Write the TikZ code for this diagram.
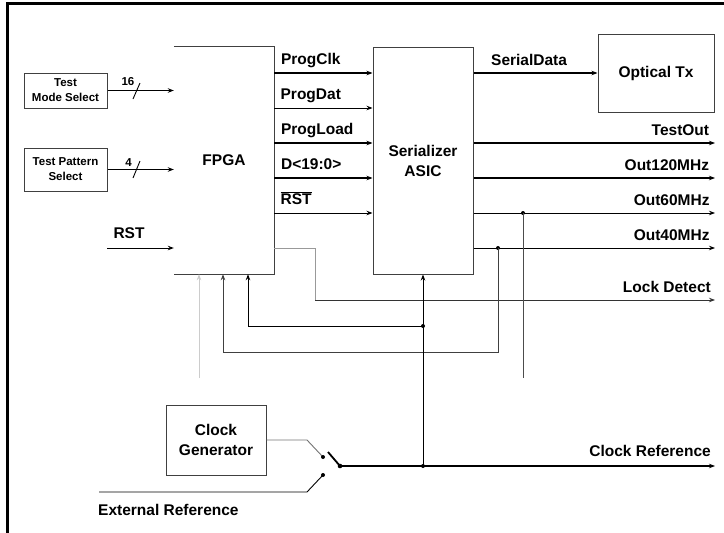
\documentclass[tikz,border=0pt]{standalone}
\usepackage{fontspec}
\setmainfont{Liberation Sans}
\usepackage{xcolor}
\usepackage{tikz}
\usetikzlibrary{arrows.meta, calc, positioning}

\tikzset{
  lbl/.style={font=\fontsize{15.5}{20}\selectfont\bfseries, inner sep=0pt, align=center},
  smalllbl/.style={font=\fontsize{11.5}{15}\selectfont\bfseries, inner sep=0pt, align=center},
  blk/.style={draw=black!75, line width=1pt},
  thk/.style={line width=1.8pt},
  thn/.style={line width=0.9pt},
}

\begin{document}
\begin{tikzpicture}[>={Stealth[length=6pt,width=4.5pt]}, x=1pt, y=-1pt]
  \useasboundingbox (0,0) rectangle (724,533);
  % frame
  \draw[line width=3pt] (7,533) -- (7,3) -- (724,3);

  % blocks
  \node[lbl, minimum width=100pt, minimum height=227pt] (fpga) at (224,160.5) {FPGA};
  \draw[blk] (fpga.north west) -- (fpga.north east) -- (fpga.south east) -- (fpga.south west);
  \node[blk, lbl, minimum width=100pt, minimum height=227pt] (asic) at (423,160.5) {Serializer\\ASIC};
  \node[blk, lbl, minimum width=116pt, minimum height=78pt] (optx) at (656,73) {Optical Tx};
  \node[blk, smalllbl, minimum width=83pt, minimum height=35pt] (modesel) at (65.5,90.5) {Test\\Mode Select};
  \node[blk, smalllbl, minimum width=83pt, minimum height=43pt] (patsel) at (65.5,169.5) {Test Pattern\\Select};
  \node[blk, lbl, minimum width=100pt, minimum height=70pt] (clkgen) at (216,440) {Clock\\Generator};

  % inputs to FPGA
  \draw[thk,->] (modesel.east) -- (modesel.east -| fpga.west);
  \node[smalllbl] (bus16) at (128,82) {16};
  \draw[thn] (133,99) -- (140,83);
  \draw[thn,->] (patsel.east) -- (patsel.east -| fpga.west);
  \node[smalllbl] (bus4) at (128.5,163) {4};
  \draw[thn] (133,178) -- (140,161);
  \coordinate (rstin) at (107,248);
  \draw[thn,->] (rstin) -- (rstin -| fpga.west);
  \node[lbl] (rstlbl) at (129,233) {RST};

  % FPGA -> ASIC
  \foreach \y/\txt/\w in {73/ProgClk/thk, 108/ProgDat/thn, 143/ProgLoad/thk,
                          178/{D<19:0>}/thk, 213/{$\overline{\hbox{RST}}$}/thn}
    \draw[\w,->] (fpga.east |- 0,\y) -- (asic.west |- 0,\y)
      node[lbl, anchor=base west] at ($(fpga.east |- 0,\y)+(6,-9)$) {\txt};

  % ASIC outputs
  \coordinate (rgt) at (715,0);
  \draw[thk,->] (asic.east |- optx.west) -- (optx.west);
  \node[lbl, anchor=base west] (sdlbl) at (491,65) {SerialData};
  \foreach \y/\txt/\w in {143/TestOut/thk, 178/Out120MHz/thk, 213/Out60MHz/thn, 248/Out40MHz/thn}
    \draw[\w,->] (asic.east |- 0,\y) -- (rgt |- 0,\y)
      node[lbl, anchor=base east] at ($(rgt |- 0,\y)+(-5,-8)$) {\txt};

  % lock detect
  \coordinate (ld1) at (315,248);
  \coordinate (ld2) at (315,300);
  \draw[thn, black!40] (fpga.east |- ld1) -- (ld1) -- (ld2);
  \draw[thn, black!80, ->] (ld2) -- (rgt |- ld2);
  \node[lbl, anchor=base east] (ldlbl) at (711,292) {Lock Detect};

  % feedback to FPGA
  \coordinate (t60) at (523,213);
  \coordinate (t60e) at (523,378);
  \fill (t60) circle (2);
  \draw[thn, black!70] (t60) -- (t60e);
  \coordinate (t40) at (498,248);
  \coordinate (t40a) at (498,352);
  \coordinate (t40b) at (223,352);
  \fill (t40) circle (2);
  \draw[thn, black!75, ->] (t40) -- (t40a) -- (t40b) -- (t40b |- fpga.south);
  \coordinate (lg) at (199,378);
  \draw[thn, black!20, ->] (lg) -- (lg |- fpga.south);

  % clock reference
  \coordinate (pivot) at (340,466);
  \coordinate (jc) at (423,466);
  \coordinate (jb) at (423,326);
  \coordinate (jb2) at (248,326);
  \draw[thk, ->] (pivot) -- (rgt |- pivot);
  \node[lbl, anchor=base east] (crlbl) at (711,456) {Clock Reference};
  \draw[thn, ->] (jc) -- (jc |- asic.south);
  \draw[thn, ->] (jb) -- (jb2) -- (jb2 |- fpga.south);
  \fill (jc) circle (2);
  \fill (jb) circle (2);

  % switch
  \coordinate (ka) at (323,457);
  \coordinate (kb) at (323,475);
  \coordinate (extin) at (99,492);
  \draw[thn, black!55] (clkgen.east) -- (307,440) -- (ka);
  \draw[thn] (extin) -- (307,492) -- (kb);
  \fill (ka) circle (2);
  \fill (kb) circle (2);
  \fill (pivot) circle (2.3);
  \draw[thk] (328,452) -- (pivot);
  \node[lbl, anchor=base west] (extlbl) at (98,515) {External Reference};
\end{tikzpicture}
\end{document}
